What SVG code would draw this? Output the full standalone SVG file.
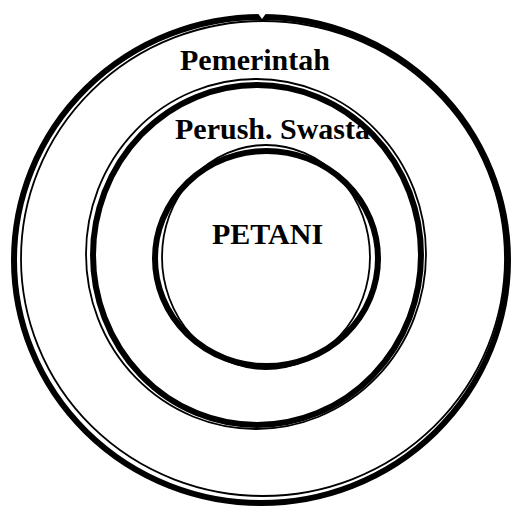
<svg xmlns="http://www.w3.org/2000/svg" width="511" height="506" viewBox="0 0 511 506">
<style>
.thick{fill:none;stroke:#000;stroke-width:6}
.thin{fill:none;stroke:#000;stroke-width:1.8}
.lbl{font-family:"Liberation Serif","Times New Roman",serif;font-weight:bold;font-size:30px;fill:#000}
</style>
<rect width="511" height="506" fill="#fff"/>
<g id="ring-pemerintah">
<ellipse class="thick" cx="261" cy="260" rx="247" ry="243"/>
<ellipse class="thin" cx="263" cy="258.5" rx="242" ry="237.5"/>
<path d="M257 12 L267 12 L262 19 Z" fill="#fff"/>
<text class="lbl" x="180" y="70">Pemerintah</text>
</g>
<g id="ring-swasta">
<ellipse class="thin" cx="256" cy="254" rx="170" ry="175"/>
<ellipse class="thick" cx="257" cy="255" rx="164" ry="170"/>
<text class="lbl" x="175" y="139">Perush. Swasta</text>
</g>
<g id="ring-petani">
<ellipse class="thick" cx="266.5" cy="258.5" rx="111.5" ry="107.5"/>
<ellipse class="thin" cx="266" cy="257" rx="104" ry="112"/>
<text class="lbl" x="212" y="244">PETANI</text>
</g>
</svg>
